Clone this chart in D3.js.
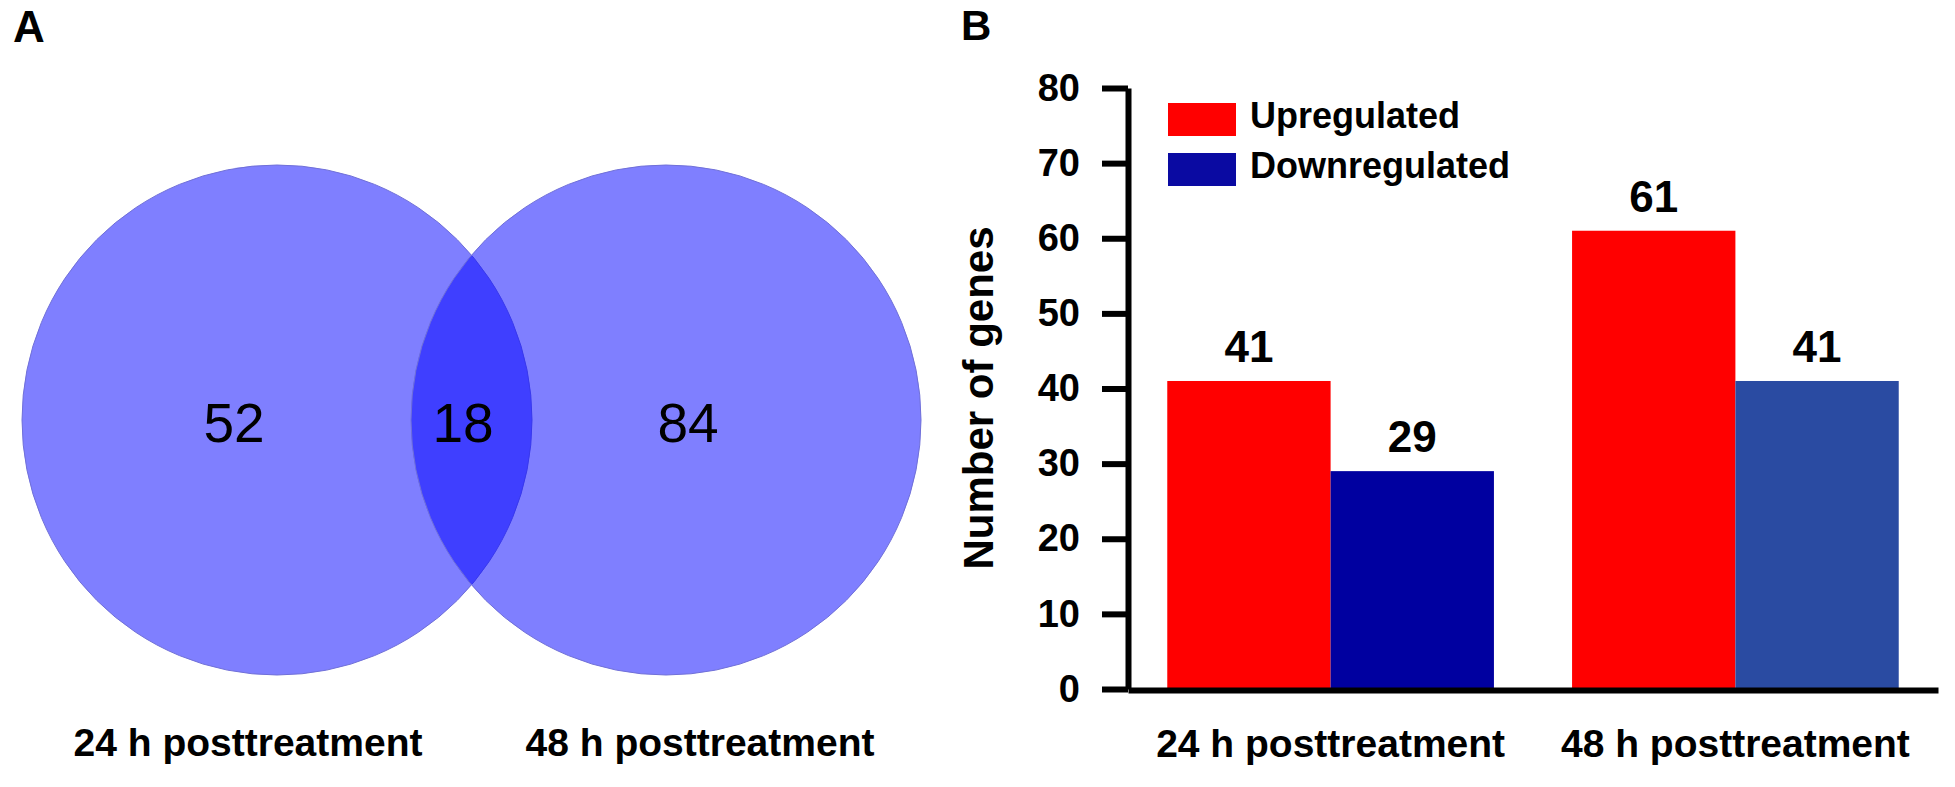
<!DOCTYPE html>
<html>
<head>
<meta charset="utf-8">
<script src="https://cdn.jsdelivr.net/npm/d3@7"></script>
<style>
  body { margin: 0; background: #fff; }
  svg { display: block; font-family: "Liberation Sans", Arial, sans-serif; }
</style>
</head>
<body>
<svg id="chart" width="1955" height="787"></svg>
<script>
// Venn panel (A)
const vennSets = ["24 h posttreatment", "48 h posttreatment"];
const vennCounts = [52, 18, 84];   // only 24h, both, only 48h

// bar panel (B)
const groups = ["24 h posttreatment", "48 h posttreatment"];
const series = ["Upregulated", "Downregulated"];
const upValues = [41, 61];
const downValues = [29, 41];
const yTicks = [0, 10, 20, 30, 40, 50, 60, 70, 80];

const svg = d3.select("#chart");

// panel letters
svg.append("text").attr("x", 13).attr("y", 42)
  .attr("font-size", 44).attr("font-weight", "bold").text("A");
svg.append("text").attr("x", 961).attr("y", 40)
  .attr("font-size", 42).attr("font-weight", "bold").text("B");

// ---------- Venn ----------
const venn = svg.append("g");
const r = 255;
const vx = d3.scaleLinear().domain([0, 1]).range([277, 666]); // circle centres
const cy = 420;

venn.selectAll("circle")
  .data(vennSets)
  .enter()
  .append("circle")
  .attr("cx", (d, i) => vx(i))
  .attr("cy", cy)
  .attr("r", r)
  .attr("fill", "#0000ff")
  .attr("fill-opacity", 0.5)
  .attr("stroke", "#7070d8")
  .attr("stroke-width", 1);

// region label positions: crescent, lens, crescent
const regionX = d3.scaleOrdinal().domain([0, 1, 2]).range([234, 463, 688]);
venn.selectAll(".count")
  .data(vennCounts)
  .enter()
  .append("text")
  .attr("class", "count")
  .attr("x", (d, i) => regionX(i))
  .attr("y", 442)
  .attr("text-anchor", "middle")
  .attr("font-size", 55)
  .text(d => d);

const setLabelX = d3.scaleOrdinal().domain(vennSets).range([248, 700]);
venn.selectAll(".setlabel")
  .data(vennSets)
  .enter()
  .append("text")
  .attr("class", "setlabel")
  .attr("x", d => setLabelX(d))
  .attr("y", 756)
  .attr("text-anchor", "middle")
  .attr("font-size", 39)
  .attr("font-weight", "bold")
  .text(d => d);

// ---------- Bars ----------
const y = d3.scaleLinear().domain([0, 80]).range([689, 88]);
const x = d3.scaleBand().domain(groups).range([1128, 1938])
  .paddingInner(0.193).paddingOuter(0.097);
const xs = d3.scaleBand().domain(series).range([0, x.bandwidth()]);

const upColor = "#ff0000";
const downColors = ["#0000a0", "#2a4ba2"];  // second group bar is lighter in the figure

const rows = groups.map((g, i) => ({
  group: g,
  vals: [
    {s: series[0], v: upValues[i], c: upColor},
    {s: series[1], v: downValues[i], c: downColors[i]}
  ]
}));

const bars = svg.append("g");
const grp = bars.selectAll(".grp")
  .data(rows)
  .enter()
  .append("g")
  .attr("transform", d => `translate(${x(d.group)},0)`);

grp.selectAll("rect")
  .data(d => d.vals)
  .enter()
  .append("rect")
  .attr("x", d => xs(d.s))
  .attr("y", d => y(d.v))
  .attr("width", xs.bandwidth())
  .attr("height", d => y(0) - y(d.v))
  .attr("fill", d => d.c);

grp.selectAll(".val")
  .data(d => d.vals)
  .enter()
  .append("text")
  .attr("class", "val")
  .attr("x", d => xs(d.s) + xs.bandwidth() / 2)
  .attr("y", d => y(d.v) - 19)
  .attr("text-anchor", "middle")
  .attr("font-size", 44)
  .attr("font-weight", "bold")
  .text(d => d.v);

// y axis
const yAxis = svg.append("g")
  .attr("transform", "translate(1128,0)")
  .call(d3.axisLeft(y).tickValues(yTicks).tickSize(26).tickSizeOuter(0).tickPadding(22));
yAxis.select(".domain").attr("stroke", "#000").attr("stroke-width", 6);
yAxis.selectAll(".tick line").attr("stroke", "#000").attr("stroke-width", 6);
yAxis.selectAll(".tick text")
  .attr("font-size", 38).attr("font-weight", "bold")
  .attr("font-family", "Liberation Sans, Arial, sans-serif").attr("fill", "#000");

// x axis
const xAxis = svg.append("g")
  .attr("transform", "translate(0,690)")
  .call(d3.axisBottom(x).tickSize(0).tickSizeOuter(0).tickPadding(39));
xAxis.select(".domain").attr("stroke", "#000").attr("stroke-width", 6);
xAxis.selectAll(".tick text")
  .attr("font-size", 39).attr("font-weight", "bold")
  .attr("font-family", "Liberation Sans, Arial, sans-serif").attr("fill", "#000");

svg.append("text")
  .attr("transform", "translate(993,398) rotate(-90)")
  .attr("text-anchor", "middle")
  .attr("font-size", 42)
  .attr("font-weight", "bold")
  .text("Number of genes");

// legend
const legendColors = [upColor, "#0a0aa2"];
const legend = svg.append("g");
const lg = legend.selectAll("g")
  .data(series)
  .enter()
  .append("g")
  .attr("transform", (d, i) => `translate(1168,${103 + i * 50})`);
lg.append("rect")
  .attr("width", 68).attr("height", 33)
  .attr("fill", (d, i) => legendColors[i]);
lg.append("text")
  .attr("x", 82).attr("y", 24.5)
  .attr("font-size", 36).attr("font-weight", "bold")
  .text(d => d);
</script>
</body>
</html>
